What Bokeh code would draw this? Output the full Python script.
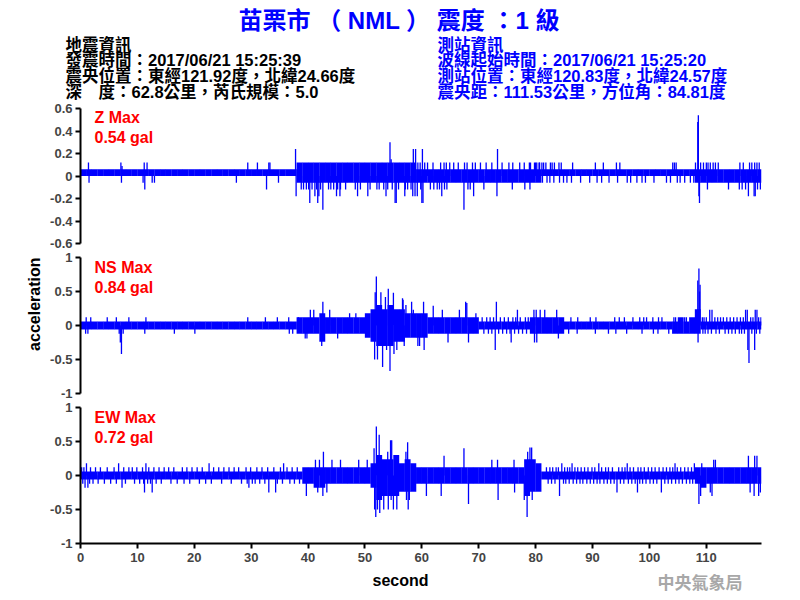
import math
from bokeh.plotting import figure
from bokeh.layouts import column
from bokeh.models import Range1d, Label, Title, FixedTicker, NumeralTickFormatter, ColumnDataSource
from bokeh.embed import file_html
from bokeh.resources import INLINE

# ---------------- data ----------------
SECONDS = list(range(120))  # 1-second bins, 0..119 s

# Z component: per-second envelope of the solid core (gal)
Z_HI = [.06, .06, .06, .06, .06, .06, .06, .06, .06, .06,
        .06, .06, .06, .06, .06, .06, .06, .06, .06, .06,
        .06, .06, .06, .06, .06, .06, .06, .06, .06, .06,
        .06, .06, .06, .06, .06, .06, .06, .06, .12, .12,
        .12, .12, .12, .12, .12, .12, .12, .12, .12, .12,
        .12, .12, .12, .12, .12, .12, .12, .12, .12, .06,
        .06, .06, .06, .06, .06, .06, .06, .06, .06, .06,
        .06, .06, .06, .06, .06, .06, .06, .06, .06, .06,
        .06, .06, .06, .06, .06, .06, .06, .06, .06, .06,
        .06, .06, .06, .06, .06, .06, .06, .06, .06, .06,
        .06, .06, .06, .06, .06, .06, .06, .06, .06, .06,
        .06, .06, .06, .06, .06, .06, .06, .06, .06, .06]
Z_LO = [0, 0, 0, 0, 0, 0, 0, 0, 0, 0,
        0, 0, 0, 0, 0, 0, 0, 0, 0, 0,
        0, 0, 0, 0, 0, 0, 0, 0, 0, 0,
        0, 0, 0, 0, 0, 0, 0, 0, -.06, -.06,
        -.06, -.06, -.06, -.06, -.06, -.06, -.06, -.06, -.06, -.06,
        -.06, -.06, -.06, -.06, -.06, -.06, -.06, -.06, -.06, -.06,
        -.06, -.06, -.06, -.06, -.06, -.06, -.06, -.06, -.06, -.06,
        -.06, -.06, -.06, -.06, -.06, -.06, -.06, -.06, -.06, -.06,
        -.06, 0, 0, 0, 0, 0, 0, 0, 0, 0,
        0, 0, 0, 0, 0, 0, 0, 0, 0, 0,
        0, 0, 0, 0, 0, 0, 0, 0, -.06, -.06,
        -.06, -.06, -.06, -.06, -.06, -.06, -.06, -.06, -.06, -.06]
# individual traces that stick out of the core: (second, gal)
Z_SPIKES = [
    (1.4, .12), (1.5, -.06), (7.1, .12), (7.2, -.06), (7.3, .09), (11.0, -.06), (11.2, .12),
    (11.3, -.12), (11.7, .12), (12.6, -.06), (13.0, -.06), (27.4, -.06), (29.4, .12),
    (31.1, .12), (32.7, -.12), (33.1, .12), (33.3, .12), (34.8, -.06), (37.8, .24), (37.9, -.18),
    (38.8, -.12), (39.2, -.12), (39.7, -.12), (40.1, -.12), (40.3, -.24), (40.7, -.12),
    (41.2, -.18), (41.5, -.12), (41.7, -.24), (41.9, -.18), (42.2, -.12), (42.6, -.30),
    (43.6, -.12), (44.0, -.12), (44.5, -.12), (45.0, -.18), (45.2, -.12), (45.6, -.18),
    (45.7, -.12), (46.6, -.12), (48.3, -.12), (48.7, -.18), (49.2, -.12), (50.5, -.18),
    (50.9, -.12), (52.1, -.12), (52.5, -.12), (53.3, -.12), (53.7, -.18), (54.0, -.12),
    (54.4, .30), (54.6, .15), (54.8, -.12), (55.3, -.24), (55.5, -.24), (55.9, -.12),
    (57.0, -.18), (57.1, -.12), (57.5, -.12), (58.1, -.12), (58.4, -.18), (58.5, .24),
    (58.8, -.18), (58.9, .24), (59.2, -.18), (59.3, .12), (59.7, .12), (59.8, -.12),
    (60.0, -.24), (60.1, .24), (60.2, -.24), (60.5, .12), (61.0, .12), (61.5, -.12),
    (61.96, .12), (62.1, -.12), (62.7, -.12), (63.1, -.12), (63.3, .12), (63.5, -.18),
    (63.9, .12), (63.98, -.12), (64.3, .12), (64.4, -.12), (64.9, .12), (65.6, .12),
    (66.4, .12), (67.4, -.30), (67.5, .12), (67.95, .12), (68.1, -.12), (68.5, -.12),
    (68.9, .12), (69.1, -.18), (69.4, .12), (70.3, .12), (70.9, -.12), (71.3, .12),
    (72.3, .12), (73.2, -.18), (73.3, .24), (74.1, .12), (75.3, .12), (75.9, -.12),
    (75.98, .12), (77.2, .12), (78.0, .12), (78.1, -.12), (78.9, .12), (79.0, -.12),
    (79.1, .12), (79.8, .12), (80.0, .12), (80.2, .12), (80.6, .12), (80.7, .12), (81.1, .12),
    (81.2, -.06), (81.4, .12), (81.8, .12), (82.0, -.06), (82.5, -.06), (82.6, .12),
    (82.9, .12), (83.2, -.06), (83.3, .12), (84.1, .12), (84.2, -.06), (84.5, .12),
    (84.9, -.06), (85.5, -.06), (86.3, -.06), (86.5, .12), (87.9, -.06), (89.5, -.06),
    (90.5, .12), (90.8, -.06), (91.6, -.06), (91.9, .12), (92.9, -.06), (94.2, .12),
    (94.4, -.06), (94.8, .12), (96.1, -.06), (96.7, -.06), (97.8, -.06), (98.7, -.06),
    (99.3, -.06), (100.8, -.06), (103.0, -.06), (103.7, -.06), (104.1, .12), (104.4, .12),
    (104.7, .12), (104.9, -.06), (105.4, -.06), (106.2, -.06), (107.2, -.06), (107.8, -.06),
    (108.1, .12), (108.5, .48), (108.6, .54), (108.7, -.18), (108.8, -.24), (109.0, .12),
    (109.5, .12), (110.0, .12), (110.2, -.12), (110.3, .12), (110.7, .12), (111.2, .12),
    (111.6, .12), (112.1, .12), (113.9, -.12), (115.8, -.12), (115.9, .12), (116.3, -.12),
    (116.5, .12), (116.9, -.12), (117.4, -.18), (117.6, .12), (118.0, .12), (118.4, -.18),
    (118.5, .12), (118.6, -.18), (118.9, .12), (119.0, -.12), (119.3, .12), (119.5, -.12)]

# NS component
NS_HI = [.06, .06, .06, .06, .06, .06, .06, .06, .06, .06,
         .06, .06, .06, .06, .06, .06, .06, .06, .06, .06,
         .06, .06, .06, .06, .06, .06, .06, .06, .06, .06,
         .06, .06, .06, .06, .06, .06, .06, .06, .12, .12,
         .12, .12, .18, .12, .12, .12, .12, .12, .12, .12,
         .18, .24, .30, .24, .30, .24, .24, .18, .18, .18,
         .18, .12, .12, .12, .12, .12, .12, .12, .12, .12,
         .06, .06, .06, .06, .06, .06, .06, .06, .06, .12,
         .12, .12, .12, .12, .12, .06, .06, .06, .06, .06,
         .06, .06, .06, .06, .06, .06, .06, .06, .06, .06,
         .06, .06, .06, .06, .06, .12, .06, .12, .24, .06,
         .06, .06, .06, .06, .06, .06, .06, .06, .06, .06]
NS_LO = [-.06, -.06, -.06, -.06, -.06, -.06, -.06, -.06, -.06, -.06,
         -.06, -.06, -.06, -.06, -.06, -.06, -.06, -.06, -.06, -.06,
         -.06, -.06, -.06, -.06, -.06, -.06, -.06, -.06, -.06, -.06,
         -.06, -.06, -.06, -.06, -.06, -.06, -.06, -.06, -.12, -.12,
         -.12, -.12, -.24, -.12, -.12, -.12, -.12, -.12, -.12, -.12,
         -.18, -.24, -.30, -.30, -.30, -.24, -.24, -.18, -.18, -.18,
         -.18, -.12, -.12, -.12, -.12, -.12, -.12, -.12, -.12, -.12,
         -.06, -.06, -.06, -.06, -.06, -.06, -.06, -.06, -.06, -.12,
         -.12, -.12, -.12, -.12, -.12, -.06, -.06, -.06, -.06, -.06,
         -.06, -.06, -.06, -.06, -.06, -.06, -.06, -.06, -.06, -.06,
         -.06, -.06, -.06, -.06, -.12, -.12, -.12, -.12, -.12, -.06,
         -.06, -.06, -.06, -.06, -.06, -.06, -.06, -.06, -.06, -.06]
NS_SPIKES = [
    (0.9, -.12), (1.0, .12), (1.3, -.12), (1.8, .12), (4.7, .12), (6.3, .12), (6.8, -.12),
    (7.0, -.25), (7.2, -.42), (7.5, -.12), (8.5, .12), (11.3, -.12), (11.5, .12), (16.5, -.12),
    (20.1, -.12), (29.4, .12), (32.5, .12), (34.6, .12), (36.6, .12), (36.7, -.12), (37.3, -.12),
    (38.3, .12), (39.5, -.19), (39.8, -.19), (40.4, .23), (41.0, .23), (42.4, -.30), (42.6, .35),
    (43.8, .23), (45.2, -.19), (47.3, .18), (48.4, .18), (51.7, -.50), (51.8, .49), (52.0, .72),
    (52.2, -.50), (52.8, .49), (53.1, -.61), (53.6, .42), (53.8, -.36), (54.1, .54), (54.4, -.67),
    (54.7, -.30), (55.0, .48), (55.1, -.42), (55.6, -.36), (56.6, .40), (56.7, .38), (56.9, -.30),
    (57.2, .30), (58.2, .35), (58.5, .23), (59.3, -.30), (59.6, -.30), (60.3, .35), (60.4, -.36),
    (62.0, .29), (63.6, .23), (64.6, -.25), (66.6, .23), (67.7, .35), (67.9, .33), (68.2, -.25),
    (69.5, .18), (70.6, .12), (70.9, -.12), (71.4, .12), (71.7, -.12), (72.0, .12), (72.3, -.12),
    (72.6, .12), (72.9, -.36), (73.1, .35), (73.5, -.12), (73.8, .12), (74.2, -.12), (74.5, .12),
    (74.9, -.12), (75.2, .12), (75.5, -.12), (75.7, -.25), (76.0, .12), (76.3, -.12), (76.5, .12),
    (76.8, .23), (77.0, -.12), (77.3, .12), (77.7, -.12), (78.2, .12), (78.4, -.12), (78.7, .12),
    (79.7, .23), (79.8, -.25), (80.1, .23), (80.2, -.25), (80.8, .23), (81.6, .23), (83.7, .23),
    (84.0, -.19), (85.8, -.12), (86.2, .12), (87.3, -.12), (87.4, .12), (89.6, .12), (90.5, -.12),
    (90.6, .12), (92.8, -.12), (93.9, .12), (94.1, -.12), (94.7, .12), (95.6, .12), (96.0, -.12),
    (97.1, .12), (98.3, .12), (98.7, -.12), (99.0, .12), (99.5, .12), (100.6, .12), (100.7, -.12),
    (101.5, -.12), (101.6, .12), (102.2, .12), (103.4, -.12), (104.3, .12), (104.6, .12),
    (106.2, .12), (106.5, .12), (108.5, .66), (108.55, -.25),
    (108.7, .84), (108.8, .50), (108.9, .60), (109.3, .12), (109.4, -.12), (109.6, .12),
    (109.8, -.12), (110.0, .12), (110.3, -.12), (110.6, .23), (110.9, -.12), (111.0, .23),
    (111.5, .12), (111.7, -.12), (112.0, .12), (112.3, -.12), (112.5, .12), (113.0, .12),
    (113.3, -.12), (113.6, .12), (113.9, -.12), (114.2, .12), (114.5, -.12), (114.8, .12),
    (115.1, -.12), (115.4, .12), (115.8, -.12), (116.0, .12), (116.2, -.12), (116.5, .12),
    (116.7, -.12), (116.9, .23), (117.2, .23), (117.3, -.36), (117.5, -.55), (117.8, .12),
    (118.0, -.12), (118.2, .12), (118.5, -.36), (118.6, .23), (118.8, -.12), (118.9, .23),
    (119.2, .12), (119.4, -.12), (119.6, .12)]

# EW component
EW_HI = [.06, .06, .06, .06, .06, .06, .06, .06, .06, .06,
         .06, .06, .06, .06, .06, .06, .06, .06, .06, .06,
         .06, .06, .06, .06, .06, .06, .06, .06, .06, .06,
         .06, .06, .06, .06, .06, .06, .06, .06, .06, .12,
         .12, .12, .12, .12, .12, .12, .12, .12, .12, .12,
         .12, .18, .30, .24, .24, .30, .18, .24, .18, .12,
         .12, .12, .12, .12, .12, .12, .12, .12, .12, .12,
         .12, .12, .12, .12, .12, .12, .12, .12, .24, .24,
         .18, .06, .06, .06, .06, .06, .06, .06, .06, .06,
         .06, .06, .06, .06, .06, .06, .06, .06, .06, .06,
         .06, .06, .06, .06, .06, .06, .06, .06, .12, .12,
         .12, .12, .12, .12, .12, .12, .12, .12, .12, .12]
EW_LO = [-.06, -.06, -.06, -.06, -.06, -.06, -.06, -.06, -.06, -.06,
         -.06, -.06, -.06, -.06, -.06, -.06, -.06, -.06, -.06, -.06,
         -.06, -.06, -.06, -.06, -.06, -.06, -.06, -.06, -.06, -.06,
         -.06, -.06, -.06, -.06, -.06, -.06, -.06, -.06, -.06, -.12,
         -.12, -.18, -.18, -.12, -.12, -.12, -.12, -.12, -.12, -.12,
         -.12, -.18, -.36, -.30, -.30, -.30, -.24, -.24, -.24, -.12,
         -.12, -.12, -.12, -.12, -.12, -.12, -.12, -.12, -.12, -.12,
         -.12, -.12, -.12, -.12, -.12, -.12, -.12, -.12, -.30, -.24,
         -.24, -.06, -.06, -.06, -.06, -.06, -.06, -.06, -.06, -.06,
         -.06, -.06, -.06, -.06, -.06, -.06, -.06, -.06, -.06, -.06,
         -.06, -.06, -.06, -.06, -.06, -.06, -.06, -.06, -.12, -.18,
         -.12, -.12, -.12, -.12, -.12, -.12, -.12, -.12, -.12, -.12]
EW_SPIKES = [
    (0.2, .12), (0.4, -.12), (0.6, .12), (0.8, -.18), (1.05, .18), (1.3, -.18), (1.6, -.12),
    (1.76, .12), (2.2, -.12), (2.64, .12), (3.1, -.12),
    (3.5, .12), (4.2, -.12), (4.7, .12), (5.3, -.12), (5.9, .12), (6.3, -.12), (6.7, .18),
    (7.3, -.18), (7.6, .12), (7.9, -.12), (8.5, .12), (9.1, .12), (9.5, -.12), (9.9, .12),
    (10.4, -.12), (10.9, .12), (11.1, -.12), (11.25, -.25), (11.5, .18), (11.8, -.12),
    (12.0, .12), (12.3, -.12), (12.6, -.25),
    (12.9, .12), (13.3, -.12), (13.8, .12), (14.2, -.12), (14.7, .12), (15.5, .12), (15.9, -.12),
    (16.4, .12), (17.0, -.12), (17.9, .12), (18.2, -.12), (18.7, .12), (19.2, -.12), (19.6, .12),
    (20.5, .12), (20.9, -.12), (21.4, .12), (22.0, -.12), (22.6, .18), (23.0, -.12), (23.4, .12),
    (24.3, .12), (24.8, -.12), (25.2, .12), (26.1, .12), (26.5, -.12), (27.0, .12), (27.8, .12),
    (28.3, -.12), (29.1, .12), (29.3, -.12), (29.6, -.18), (29.9, .12), (30.2, -.12),
    (30.7, -.12), (31.0, .12), (31.5, -.12), (31.9, .12), (32.4, -.12), (32.9, .12),
    (33.1, -.25), (33.98, .12), (34.3, -.25), (34.6, -.12),
    (35.15, .12), (35.5, -.12), (35.7, .18), (36.3, .12), (36.8, -.12), (37.2, .12), (37.6, -.12),
    (38.1, .12), (38.5, -.12), (39.7, -.30), (41.3, .23), (41.7, -.25), (42.0, .23), (42.6, -.30),
    (42.7, .35),
    (43.3, -.25), (44.2, .23), (45.7, .23), (48.9, .23), (50.4, .23), (51.6, .40), (51.7, -.50),
    (51.9, -.61), (52.0, .72), (52.2, -.50), (52.5, .60), (52.6, -.55), (53.3, -.50), (54.0, .35),
    (54.1, -.50), (54.5, .52), (54.6, -.36), (54.7, .52), (55.0, -.50), (55.6, -.50), (57.2, .35),
    (57.3, -.36), (57.5, .49), (57.6, -.50), (57.8, -.36), (60.8, -.30), (63.4, -.30), (63.9, .29),
    (67.4, .40), (68.2, -.42), (72.3, .23), (73.3, .23), (73.4, -.36), (76.2, .23), (76.3, -.25),
    (78.0, -.36), (78.5, -.61), (78.6, .35), (79.0, .41), (79.3, .41), (79.4, -.36),
    (81.9, .12), (82.2, -.12), (82.5, .12), (82.8, -.12), (83.0, .12), (83.4, -.12), (83.6, .12),
    (84.0, .12), (84.2, -.30), (84.6, .18), (84.9, -.12), (85.1, .12), (85.3, -.12), (85.6, .12),
    (85.9, -.12), (86.0, .12), (86.4, .18), (86.6, -.12), (86.9, .12), (87.2, -.12), (87.4, .12),
    (87.8, -.12), (88.0, .12), (88.3, -.12), (88.6, .12), (89.0, -.12), (89.2, .12), (89.6, -.12),
    (89.9, .12), (90.2, -.12), (90.4, .12), (90.8, -.12), (91.1, .18), (91.3, -.12), (91.6, .12),
    (92.0, -.12), (92.3, .12), (92.6, -.12), (92.8, .12), (93.2, -.12), (93.5, .12), (93.8, -.12),
    (94.3, -.25), (94.6, .12), (94.9, -.12), (95.2, .12), (95.5, -.12), (95.7, .12), (96.1, .18),
    (96.3, -.12), (96.6, .12), (96.9, -.12), (97.2, .12), (97.5, -.12), (97.9, -.25), (98.0, .12),
    (98.3, -.12), (98.5, .12), (98.8, -.12), (99.1, .12), (99.4, -.12), (99.8, .12), (100.1, -.12),
    (100.4, .12), (100.7, -.12), (101.0, .12), (101.3, -.12), (101.7, .12), (102.1, -.25),
    (102.4, .12), (102.7, -.12), (103.0, .12), (103.3, -.12), (103.6, .12), (103.9, -.12),
    (104.1, .12), (104.5, .18), (104.6, -.12), (104.9, .12), (105.2, -.12), (105.5, .12),
    (105.8, -.12), (106.2, .12), (106.5, -.12), (106.8, .12), (107.1, -.12), (107.4, .12),
    (107.6, -.12), (107.9, .18), (108.7, -.42), (109.0, -.30), (109.2, .18), (110.7, -.25),
    (111.0, -.30), (111.3, .23), (111.6, .23), (117.4, .29), (117.7, -.25), (118.4, -.30),
    (118.5, .29), (118.9, .29), (119.2, -.30), (119.5, -.25)]

COMPONENTS = ["Z", "NS", "EW"]
PEAKS = ["0.54", "0.84", "0.72"]
Y_LIMITS = [0.6, 1.0, 1.0]
Y_TICKS = [[-0.6, -0.4, -0.2, 0, 0.2, 0.4, 0.6], [-1, -0.5, 0, 0.5, 1], [-1, -0.5, 0, 0.5, 1]]
X_TICKS = [0, 10, 20, 30, 40, 50, 60, 70, 80, 90, 100, 110]
X_END = 119.7

TITLE = "苗栗市 （ NML ） 震度 ：1 級"
LEFT_INFO = ["地震資訊",
             "發震時間：2017/06/21 15:25:39",
             "震央位置：東經121.92度，北緯24.66度",
             "深　度：62.8公里，芮氏規模：5.0"]
RIGHT_INFO = ["測站資訊",
              "波線起始時間：2017/06/21 15:25:20",
              "測站位置：東經120.83度，北緯24.57度",
              "震央距：111.53公里，方位角：84.81度"]

# ---------------- styling ----------------
LAT = "Liberation Sans"
MIX = "Liberation Sans, Noto Sans CJK TC"
WAVE = "#0000ff"
W = 800
BL, BR = 80, 39          # left / right borders -> plot frame 80..761 px


def no_align(f):
    try:
        f.frame_align = False
    except Exception:
        pass


def blank(height):
    f = figure(width=W, height=height, x_range=Range1d(0, W), y_range=Range1d(height, 0),
               x_axis_type=None, y_axis_type=None, output_backend="svg",
               toolbar_location=None, min_border=0)
    no_align(f)
    f.grid.visible = False
    f.outline_line_color = None
    return f


def lab(fig, x, y, text, size, color, font=MIX, bold=True, align="left", angle=0.0):
    fig.add_layout(Label(x=x, y=y, text=text, text_font=font, text_font_size=size,
                         text_font_style=("bold" if bold else "normal"), text_color=color,
                         text_baseline="middle", text_align=align, angle=angle))


head = blank(100)
lab(head, 238, 20, TITLE, "24px", "#0000ff")
line_y = [44, 59.5, 75.5, 91]
for i, s in enumerate(LEFT_INFO):
    lab(head, 65, line_y[i], s, "16.5px", "black")
for i, s in enumerate(RIGHT_INFO):
    lab(head, 437, line_y[i], s, "16.5px", "#0000ff")

xr = Range1d(0, X_END)
HI = [Z_HI, NS_HI, EW_HI]
LO = [Z_LO, NS_LO, EW_LO]
SP = [Z_SPIKES, NS_SPIKES, EW_SPIKES]
heights = [150, 150, 168]
tops = [8, 7, 7]
bottoms = [7, 7, 25]
label_y = [(0.516, 0.345), (0.846, 0.56), (0.846, 0.56)]
panels = []
for k in range(3):
    lim = Y_LIMITS[k]
    last = (k == 2)
    p = figure(width=W, height=heights[k], x_range=xr, y_range=Range1d(-lim, lim),
               output_backend="svg", toolbar_location=None,
               x_axis_location=("below" if last else None),
               min_border_left=BL, min_border_right=BR,
               min_border_top=tops[k], min_border_bottom=bottoms[k])
    p.grid.visible = False
    p.outline_line_color = None
    src = ColumnDataSource(dict(x=[s + 0.5 for s in SECONDS], top=HI[k], bottom=LO[k]))
    p.vbar(x="x", top="top", bottom="bottom", width=1.04, source=src,
           fill_color=WAVE, line_color=WAVE, line_width=0)
    st = [a for a, b in SP[k]]
    sv = [b for a, b in SP[k]]
    ssrc = ColumnDataSource(dict(t=st, v=sv, z=[0] * len(st)))
    p.segment(x0="t", y0="z", x1="t", y1="v", source=ssrc, line_color=WAVE, line_width=1.3)

    axes = [p.yaxis[0]] + ([p.xaxis[0]] if last else [])
    for ax in axes:
        ax.minor_tick_line_color = None
        ax.major_tick_out = 5
        ax.major_tick_in = 0
        ax.axis_line_width = 2
        ax.major_tick_line_width = 2
        ax.major_label_text_font = LAT
        ax.major_label_text_font_style = "bold"
        ax.major_label_text_font_size = "13px"
    ya = p.yaxis[0]
    ya.ticker = FixedTicker(ticks=Y_TICKS[k])
    ya.formatter = NumeralTickFormatter(format="0.[0]")
    ya.major_label_standoff = 3
    if last:
        xa = p.xaxis[0]
        xa.ticker = FixedTicker(ticks=X_TICKS)
        xa.formatter = NumeralTickFormatter(format="0")
        xa.major_label_standoff = 4
    if k == 1:
        p.add_layout(Title(text="acceleration", align="right", offset=0, standoff=9,
                           text_font=LAT, text_font_style="bold", text_font_size="16px",
                           text_color="black"), "left")

    lab(p, 2.46, label_y[k][0], f"{COMPONENTS[k]} Max", "16px", "#ff0000", font=LAT)
    lab(p, 2.46, label_y[k][1], f"{PEAKS[k]} gal", "16px", "#ff0000", font=LAT)
    panels.append(p)

foot = blank(32)
lab(foot, 400, 12, "second", "16px", "black", font=LAT, align="center")
lab(foot, 657, 13, "中央氣象局", "17px", "#a8a8a8", font="Noto Sans CJK TC")

layout = column(head, *panels, foot, spacing=0)
open("out.html", "w").write(file_html(layout, INLINE))
